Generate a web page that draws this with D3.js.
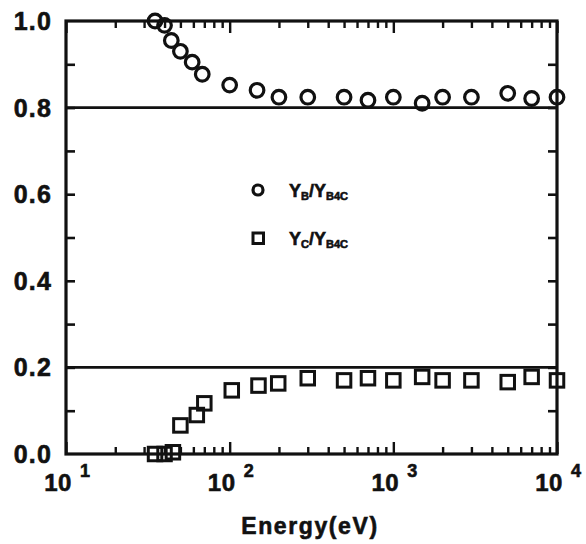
<!DOCTYPE html>
<html>
<head>
<meta charset="utf-8">
<script src="https://cdn.jsdelivr.net/npm/d3@7"></script>
<style>
  html, body { margin: 0; padding: 0; background: #fff; }
  svg { display: block; }
  text.lbl { font-family: "Liberation Sans", Arial, Helvetica, sans-serif; font-weight: bold; fill: #111; stroke: #111; stroke-width: 0.6px; }
</style>
</head>
<body>
<svg id="chart" width="586" height="544"></svg>
<script>
// Sputter yield fractions of B and C from B4C versus ion energy
const energyB = [35, 40, 44, 50, 59, 68, 100, 147, 200, 300, 500, 700, 1000, 1500, 2000, 3000, 5000, 7000, 10000];
const ratioB  = [1.0, 0.99, 0.955, 0.93, 0.905, 0.877, 0.852, 0.84, 0.824, 0.824, 0.824, 0.817, 0.824, 0.81, 0.824, 0.824, 0.833, 0.821, 0.824];
const energyC = [35, 40, 45, 50, 63, 70, 103, 150, 198, 300, 500, 700, 1000, 1500, 2000, 3000, 5000, 7000, 10000];
const ratioC  = [0.0, 0.0, 0.004, 0.066, 0.09, 0.117, 0.147, 0.158, 0.163, 0.175, 0.17, 0.175, 0.17, 0.178, 0.17, 0.17, 0.166, 0.178, 0.17];
const yTickLabels = [0.0, 0.2, 0.4, 0.6, 0.8, 1.0];
const yTicks = [0.1, 0.2, 0.3, 0.4, 0.5, 0.6, 0.7, 0.8, 0.9];
const xDecades = [1, 2, 3, 4];
const refLines = [0.8, 0.2];

const svg = d3.select("#chart");
const plotL = 66, plotR = 557, plotT = 21, plotB = 454;

const x = d3.scaleLog().domain([10, 1e4]).range([plotL, plotR]);
const y = d3.scaleLinear().domain([0, 1]).range([plotB, plotT]);

const ink = "#111";

// horizontal reference lines
svg.append("g").selectAll("line").data(refLines).join("line")
  .attr("x1", plotL).attr("x2", plotR)
  .attr("y1", d => y(d)).attr("y2", d => y(d))
  .attr("stroke", ink).attr("stroke-width", 2.8);

// frame
svg.append("rect")
  .attr("x", plotL).attr("y", plotT)
  .attr("width", plotR - plotL).attr("height", plotB - plotT)
  .attr("fill", "none").attr("stroke", ink).attr("stroke-width", 3.2);

// every 1..9 x 10^n tick inside the range
const xTicks = x.ticks();
const isMajor = d => Math.abs(Math.log10(d) - Math.round(Math.log10(d))) < 1e-9;

// bottom and top axes: inward ticks, longer at decades
const bottomAxis = svg.append("g")
  .attr("transform", `translate(0,${plotB})`)
  .call(d3.axisBottom(x).tickValues(xTicks).tickSize(-7).tickFormat(""));
bottomAxis.select(".domain").attr("stroke", "none");
bottomAxis.selectAll(".tick line")
  .attr("y2", d => isMajor(d) ? -12 : -7)
  .attr("stroke", ink).attr("stroke-width", 2.4);

const topAxis = svg.append("g")
  .attr("transform", `translate(0,${plotT})`)
  .call(d3.axisTop(x).tickValues(xTicks).tickSize(-7).tickFormat(""));
topAxis.select(".domain").attr("stroke", "none");
topAxis.selectAll(".tick line")
  .attr("y2", d => isMajor(d) ? 12 : 7)
  .attr("stroke", ink).attr("stroke-width", 2.4);

// left and right axes: inward ticks every 0.1
const leftAxis = svg.append("g")
  .attr("transform", `translate(${plotL},0)`)
  .call(d3.axisLeft(y).tickValues(yTicks).tickSize(-9).tickFormat(""));
leftAxis.select(".domain").attr("stroke", "none");
leftAxis.selectAll(".tick line").attr("stroke", ink).attr("stroke-width", 2.6);

const rightAxis = svg.append("g")
  .attr("transform", `translate(${plotR},0)`)
  .call(d3.axisRight(y).tickValues(yTicks).tickSize(-9).tickFormat(""));
rightAxis.select(".domain").attr("stroke", "none");
rightAxis.selectAll(".tick line").attr("stroke", ink).attr("stroke-width", 2.6);

// y tick labels
svg.append("g").selectAll("text").data(yTickLabels).join("text")
  .attr("class", "lbl")
  .attr("x", 52).attr("y", d => y(d) + 9)
  .attr("text-anchor", "end")
  .attr("font-size", 25)
  .attr("letter-spacing", 1.2)
  .text(d => d.toFixed(1));

// x tick labels: 10 with superscript exponent
const xl = svg.append("g").selectAll("g").data(xDecades).join("g")
  .attr("transform", p => `translate(${x(Math.pow(10, p))},491)`);
xl.append("text")
  .attr("class", "lbl")
  .attr("x", -8).attr("text-anchor", "middle")
  .attr("font-size", 24).attr("letter-spacing", 0.5)
  .text("10");
xl.append("text")
  .attr("class", "lbl")
  .attr("x", 14).attr("y", -14)
  .attr("font-size", 18)
  .text(p => p);

// axis title
svg.append("text")
  .attr("class", "lbl")
  .attr("x", 310).attr("y", 534)
  .attr("text-anchor", "middle")
  .attr("font-size", 23).attr("letter-spacing", 1.6)
  .text("Energy(eV)");

// data: circles (B) and squares (C)
const markG = svg.append("g").attr("fill", "none").attr("stroke", ink);
markG.selectAll("circle").data(energyB.map((e, i) => [e, ratioB[i]])).join("circle")
  .attr("cx", d => x(d[0])).attr("cy", d => y(d[1]))
  .attr("r", 6.8).attr("stroke-width", 3.2);
const sq = 13.5;
markG.selectAll("rect").data(energyC.map((e, i) => [e, ratioC[i]])).join("rect")
  .attr("x", d => x(d[0]) - sq / 2).attr("y", d => y(d[1]) - sq / 2)
  .attr("width", sq).attr("height", sq).attr("stroke-width", 3);

// legend
const leg = svg.append("g");
leg.append("circle").attr("cx", 258).attr("cy", 190).attr("r", 5)
  .attr("fill", "none").attr("stroke", ink).attr("stroke-width", 3.2);
leg.append("rect").attr("x", 253).attr("y", 233).attr("width", 10.5).attr("height", 10.5)
  .attr("fill", "none").attr("stroke", ink).attr("stroke-width", 3);
function legendLabel(yPos, sub1) {
  const t = leg.append("text").attr("class", "lbl").attr("x", 289).attr("y", yPos).attr("font-size", 18);
  t.append("tspan").text("Y");
  t.append("tspan").attr("font-size", 11).attr("dy", 3).text(sub1);
  t.append("tspan").attr("dy", -3).text("/Y");
  t.append("tspan").attr("font-size", 11).attr("dy", 3).text("B4C");
}
legendLabel(197, "B");
legendLabel(245, "C");
</script>
</body>
</html>
